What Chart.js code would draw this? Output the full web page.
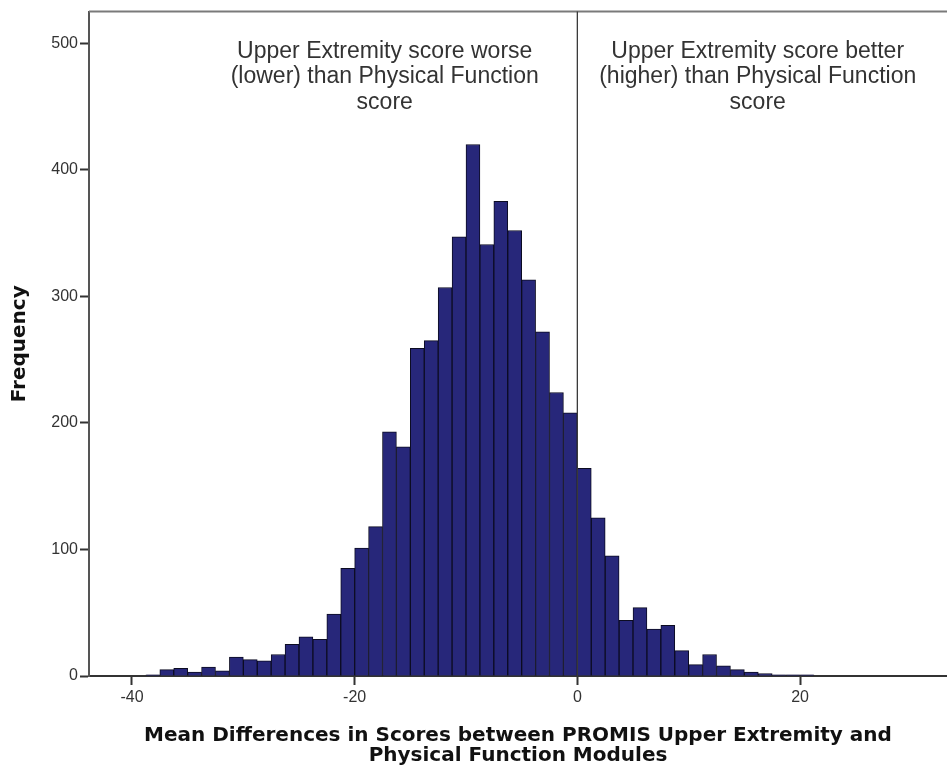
<!DOCTYPE html>
<html lang="en">
<head>
    <meta charset="UTF-8">
    <title>PROMIS score differences</title>
    <script src="https://cdn.jsdelivr.net/npm/chart.js@4.4.1/dist/chart.umd.min.js"></script>
    <style>
        html, body {
            margin: 0;
            padding: 0;
            background: #ffffff;
        }
        #chartBox {
            width: 947px;
            height: 775px;
        }
    </style>
</head>
<body>
    <div id="chartBox">
        <canvas id="histChart"></canvas>
    </div>

    <script>
        // bin midpoints (bin width 1.25)
        const binCenters = [
            -38.125, -36.875, -35.625, -34.375, -33.125, -31.875, -30.625, -29.375,
            -28.125, -26.875, -25.625, -24.375, -23.125, -21.875, -20.625, -19.375,
            -18.125, -16.875, -15.625, -14.375, -13.125, -11.875, -10.625, -9.375,
            -8.125, -6.875, -5.625, -4.375, -3.125, -1.875, -0.625, 0.625,
            1.875, 3.125, 4.375, 5.625, 6.875, 8.125, 9.375, 10.625,
            11.875, 13.125, 14.375, 15.625, 16.875, 18.125, 19.375, 20.625
        ];
        const frequencies = [
            1, 5, 6, 3, 7, 4, 15, 13,
            12, 17, 25, 31, 29, 49, 85, 101,
            118, 193, 181, 259, 265, 307, 347, 420,
            341, 375, 352, 313, 272, 224, 208, 164,
            125, 95, 44, 54, 37, 40, 20, 9,
            17, 8, 5, 3, 2, 1, 1, 1
        ];
        const xTickValues = [-40, -20, 0, 20];
        const yTickValues = [0, 100, 200, 300, 400, 500];

        const leftNote = ['Upper Extremity score worse', '(lower) than Physical Function', 'score'];
        const rightNote = ['Upper Extremity score better', '(higher) than Physical Function', 'score'];
        const xTitle = ['Mean Differences in Scores between PROMIS Upper Extremity and', 'Physical Function Modules'];
        const yTitle = 'Frequency';

        const points = binCenters.map((c, i) => ({x: c, y: frequencies[i]}));

        // frame on top, reference line at zero, and the two notes
        const overlay = {
            id: 'overlay',
            afterDatasetsDraw(chart) {
                const {ctx, chartArea, scales} = chart;
                const x0 = scales.x.getPixelForValue(0);
                ctx.save();
                ctx.strokeStyle = '#7a7a7a';
                ctx.lineWidth = 2;
                ctx.beginPath();
                ctx.moveTo(chartArea.left, chartArea.top);
                ctx.lineTo(chartArea.right, chartArea.top);
                ctx.stroke();

                ctx.strokeStyle = '#3a3a3a';
                ctx.lineWidth = 1.3;
                ctx.beginPath();
                ctx.moveTo(x0, chartArea.top);
                ctx.lineTo(x0, chartArea.bottom);
                ctx.stroke();

                ctx.fillStyle = '#333333';
                ctx.font = '23px "Liberation Sans", Arial, sans-serif';
                ctx.textAlign = 'center';
                ctx.textBaseline = 'middle';
                const lx = scales.x.getPixelForValue(-17.3);
                const rx = scales.x.getPixelForValue(16.2);
                leftNote.forEach((t, i) => ctx.fillText(t, lx, chartArea.top + 40 + i * 25.5));
                rightNote.forEach((t, i) => ctx.fillText(t, rx, chartArea.top + 40 + i * 25.5));
                ctx.restore();
            }
        };

        new Chart(document.getElementById('histChart'), {
            type: 'bar',
            data: {
                datasets: [{
                    data: points,
                    backgroundColor: '#27277a',
                    borderColor: '#0c0c22',
                    borderWidth: 1,
                    barPercentage: 1,
                    categoryPercentage: 1
                }]
            },
            options: {
                responsive: true,
                maintainAspectRatio: false,
                animation: false,
                layout: {padding: {top: 10, right: 0, bottom: 0, left: 0}},
                plugins: {
                    legend: {display: false},
                    tooltip: {enabled: false}
                },
                scales: {
                    x: {
                        type: 'linear',
                        offset: false,
                        min: -43.86,
                        max: 33.2,
                        afterFit: s => { s.height = 99; },
                        afterBuildTicks: s => { s.ticks = xTickValues.map(v => ({value: v})); },
                        border: {display: true, color: '#333333', width: 2},
                        grid: {
                            offset: false,
                            drawOnChartArea: false,
                            drawTicks: true,
                            tickLength: 9,
                            tickColor: '#333333',
                            tickWidth: 2
                        },
                        ticks: {
                            color: '#333333',
                            padding: 3,
                            maxRotation: 0,
                            font: {family: '"Liberation Sans", Arial, sans-serif', size: 16}
                        },
                        title: {
                            display: true,
                            text: xTitle,
                            color: '#111111',
                            padding: {top: 0, bottom: 9},
                            font: {family: '"DejaVu Sans", Verdana, sans-serif', size: 20, weight: 'bold', lineHeight: 1.0}
                        }
                    },
                    y: {
                        min: 0,
                        max: 525,
                        afterFit: s => { s.width = 89; },
                        afterBuildTicks: s => { s.ticks = yTickValues.map(v => ({value: v})); },
                        border: {display: true, color: '#555555', width: 2},
                        grid: {
                            drawOnChartArea: false,
                            drawTicks: true,
                            tickLength: 9,
                            tickColor: '#333333',
                            tickWidth: 2
                        },
                        ticks: {
                            color: '#333333',
                            padding: 2,
                            font: {family: '"Liberation Sans", Arial, sans-serif', size: 16}
                        },
                        title: {
                            display: true,
                            text: yTitle,
                            color: '#111111',
                            padding: {top: 10, bottom: 0},
                            font: {family: '"DejaVu Sans", Verdana, sans-serif', size: 20, weight: 'bold', lineHeight: 1.0}
                        }
                    }
                }
            },
            plugins: [overlay]
        });
    </script>
</body>
</html>
